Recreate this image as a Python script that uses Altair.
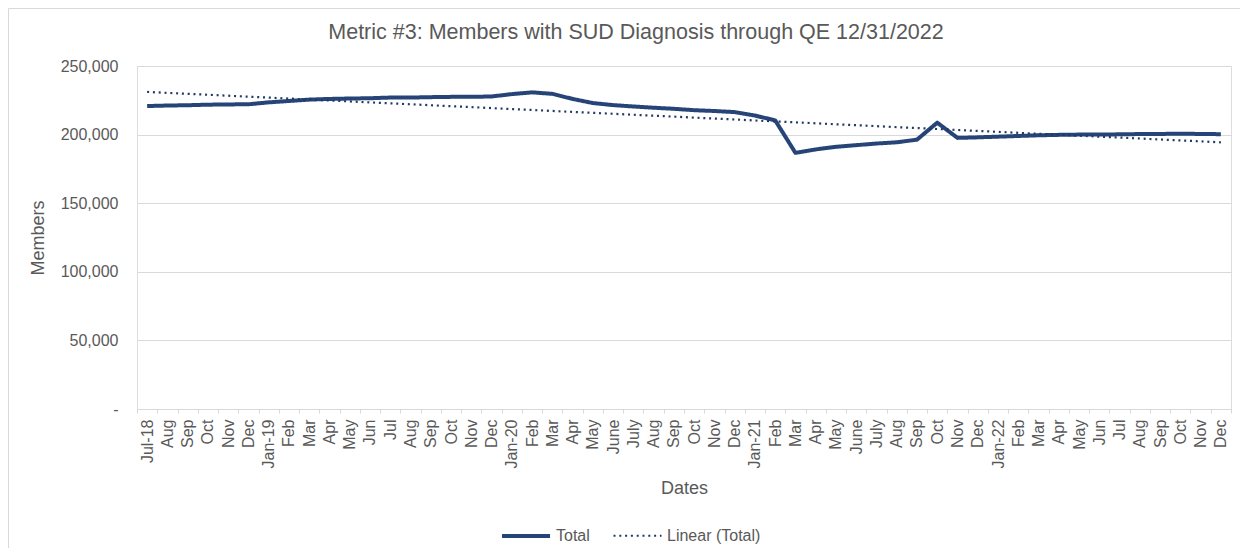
import altair as alt
import pandas as pd

# ---------------- data ----------------
month_labels = ["Jul-18", "Aug", "Sep", "Oct", "Nov", "Dec",
                "Jan-19", "Feb", "Mar", "Apr", "May", "Jun", "Jul", "Aug", "Sep", "Oct", "Nov", "Dec",
                "Jan-20", "Feb", "Mar", "Apr", "May", "June", "July", "Aug", "Sep", "Oct", "Nov", "Dec",
                "Jan-21", "Feb", "Mar", "Apr", "May", "June", "July", "Aug", "Sep", "Oct", "Nov", "Dec",
                "Jan-22", "Feb", "Mar", "Apr", "May", "Jun", "Jul", "Aug", "Sep", "Oct", "Nov", "Dec"]

total_members = [220800, 221200, 221400, 221800, 222000, 222100,
                 223500, 224500, 225500, 226000, 226300, 226500, 227000, 227000, 227300, 227500, 227500, 227800,
                 229500, 230800, 229700, 226000, 223000, 221500, 220500, 219600, 218800, 217800, 217200, 216400,
                 213900, 210400, 186700, 189200, 191100, 192300, 193500, 194400, 196300, 208700, 197600, 198000,
                 198500, 199000, 199500, 199800, 200000, 200000, 200200, 200400, 200500, 200600, 200500, 200300]

series_names = ["Total", "Linear (Total)"]
series_colors = ["#264478", "#1F3864"]
title_text = "Metric #3: Members with SUD Diagnosis through QE 12/31/2022"
y_ticks = [0, 50000, 100000, 150000, 200000, 250000]

df = pd.DataFrame({"idx": list(range(len(month_labels))), "members": total_members})

FONT = "Liberation Sans"
TXT = "#595959"
GRID = "#D9D9D9"

W, H = 1094, 343
PAD = {"left": 129, "top": 58, "right": 9, "bottom": 139}

label_expr = "[" + ",".join("'" + m + "'" for m in month_labels) + "][datum.value]"

x_enc = alt.X(
    "idx:O",
    scale=alt.Scale(type="band", domain=list(range(len(month_labels))), paddingInner=0, paddingOuter=0),
    bandPosition=0.5,
    axis=alt.Axis(
        title="Dates", labelExpr=label_expr, labelAngle=-90, tickBand="extent",
        labelFont=FONT, labelFontSize=16, labelColor=TXT, labelPadding=6,
        tickSize=4, tickColor=GRID, domainColor=GRID, grid=False,
        titleFont=FONT, titleFontSize=18, titleFontWeight="normal", titleColor=TXT,
        titleY=84, titleBaseline="alphabetic",
    ),
)
y_enc = alt.Y(
    "members:Q",
    scale=alt.Scale(domain=[0, 250000], nice=False),
    axis=alt.Axis(
        title="Members", values=y_ticks,
        labelExpr="datum.value == 0 ? '-\u00a0\u00a0' : format(datum.value, ',')",
        labelFont=FONT, labelFontSize=16, labelColor=TXT, labelPadding=19,
        ticks=False, domain=False, grid=True, gridColor=GRID, gridWidth=1,
        titleFont=FONT, titleFontSize=18, titleFontWeight="normal", titleColor=TXT,
        titleAngle=-90, titleX=-98.5, titleY=H / 2, titleAlign="center", titleBaseline="middle",
    ),
)

color_enc = alt.Color(
    "series:N",
    scale=alt.Scale(domain=series_names, range=series_colors),
    legend=alt.Legend(
        title=None, orient="none", legendX=363, legendY=444, direction="horizontal",
        symbolType="stroke", symbolSize=2304, labelFont=FONT, labelFontSize=16, labelColor=TXT,
        labelOffset=4, columnPadding=19, padding=0,
    ),
)
dash_enc = alt.StrokeDash("series:N", scale=alt.Scale(domain=series_names, range=[[1, 0], [2, 3.8]]))
width_enc = alt.StrokeWidth("series:N", scale=alt.Scale(domain=series_names, range=[4, 2.2]))

total_line = (
    alt.Chart(df)
    .transform_calculate(series="'Total'")
    .mark_line(strokeJoin="round")
    .encode(x=x_enc, y=y_enc, color=color_enc, strokeDash=dash_enc, strokeWidth=width_enc)
)

trend_line = (
    alt.Chart(df)
    .transform_regression("idx", "members", method="linear")
    .transform_calculate(series="'Linear (Total)'")
    .mark_line()
    .encode(x=x_enc, y=y_enc, color=color_enc, strokeDash=dash_enc, strokeWidth=width_enc)
)

title_mark = (
    alt.Chart(pd.DataFrame({"t": [title_text]}))
    .mark_text(font=FONT, fontSize=21.5, color=TXT, align="center", baseline="alphabetic")
    .encode(text="t:N", x=alt.value(499), y=alt.value(-27.5))
)

frame_df = pd.DataFrame({"k": [0]})
frame_left = alt.Chart(frame_df).mark_rule(color=GRID, strokeWidth=1).encode(
    x=alt.value(-128.5), y=alt.value(-57.5), y2=alt.value(H + PAD["bottom"])
)
frame_top = alt.Chart(frame_df).mark_rule(color=GRID, strokeWidth=1).encode(
    x=alt.value(-128.5), x2=alt.value(W + PAD["right"]), y=alt.value(-57.5)
)

chart = (
    alt.layer(frame_left, frame_top, total_line, trend_line, title_mark)
    .properties(width=W, height=H, padding=PAD, autosize=alt.AutoSizeParams(type="none"))
    .configure_view(stroke=None)
    .configure(background="white")
)

chart.save("out.html", embed_options={"renderer": "svg", "actions": False})
